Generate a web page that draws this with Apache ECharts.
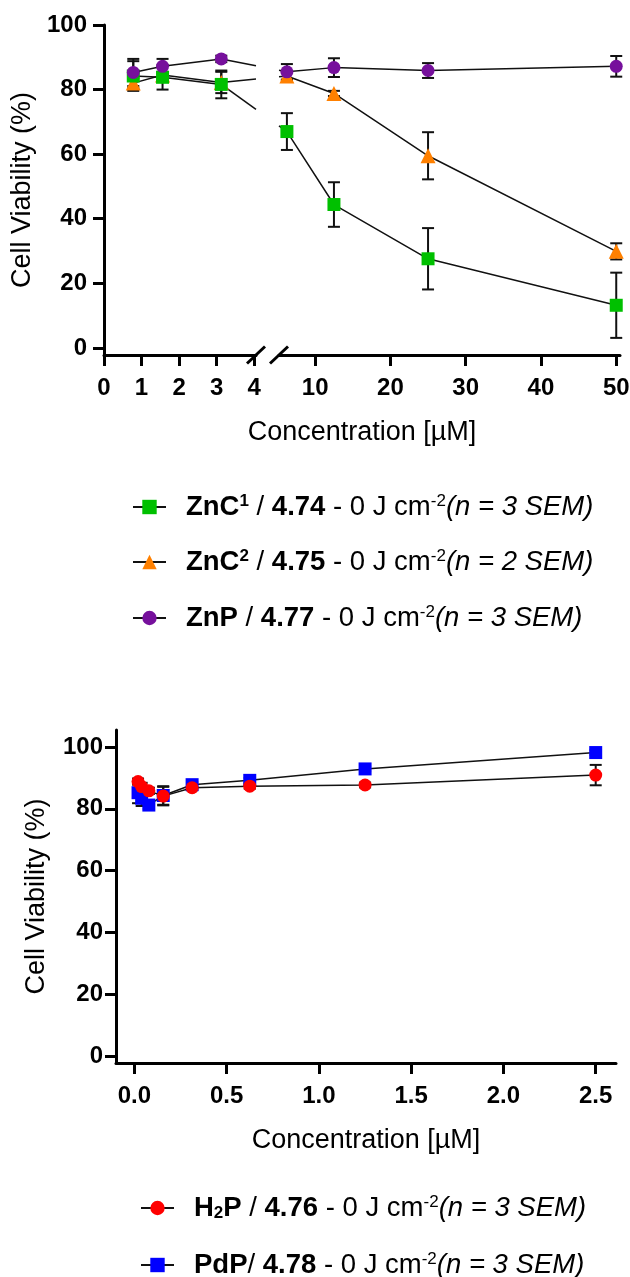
<!DOCTYPE html>
<html>
<head>
<meta charset="utf-8">
<script src="https://cdn.jsdelivr.net/npm/echarts@6/dist/echarts.min.js"></script>
<style>
  html, body { margin: 0; padding: 0; background: #fff; }
  #chart { width: 630px; height: 1277px; }
</style>
</head>
<body>
<div id="chart"></div>
<script>
// ---------- upper panel: zinc compounds, broken concentration axis (µM) ----------
const concTop = [0.78, 1.56, 3.125, 6.25, 12.5, 25, 50];
const zncOne = [84.2, 83.8, 81.6, 67.0, 44.4, 27.6, 13.2];
const zncOneSem = [4.6, 3.8, 4.3, 5.7, 6.9, 9.5, 10.1];
const zncTwo = [82.0, 84.5, 82.2, 84.2, 78.8, 59.5, 29.9];
const zncTwoSem = [1.5, 1.0, 3.3, 1.3, 0.8, 7.3, 2.5];
const znp = [85.3, 87.2, 89.5, 85.5, 86.8, 85.9, 87.2];
const znpSem = [4.2, 2.3, 1.0, 2.4, 2.9, 2.3, 3.2];
const topLowTicks = [0, 1, 2, 3, 4];
const topHighTicks = [10, 20, 30, 40, 50];
const viabilityTicks = [0, 20, 40, 60, 80, 100];

// ---------- lower panel: free base and palladium porphyrins ----------
const concBottom = [0.0195, 0.039, 0.078, 0.156, 0.3125, 0.625, 1.25, 2.5];
const h2p = [88.8, 87.2, 85.8, 84.1, 86.8, 87.3, 87.7, 90.9];
const h2pSem = [1.0, 1.2, 1.0, 3.0, 0.8, 0.8, 0.8, 3.3];
const pdp = [85.2, 83.4, 81.2, 84.3, 87.8, 89.2, 92.9, 98.2];
const pdpSem = [3.4, 2.5, 1.2, 3.0, 0.8, 0.8, 0.8, 0.8];
const bottomTicks = [0, 0.5, 1.0, 1.5, 2.0, 2.5];

// legend wording (rich text)
const legendText = {
  ZnC1: '{b|ZnC}{bsup|1}{r| / }{b|4.74}{r| - 0 J cm}{sup|-2}{i|(n = 3 SEM)}',
  ZnC2: '{b|ZnC}{bsup|2}{r| / }{b|4.75}{r| - 0 J cm}{sup|-2}{i|(n = 2 SEM)}',
  ZnP:  '{b|ZnP}{r| / }{b|4.77}{r| - 0 J cm}{sup|-2}{i|(n = 3 SEM)}',
  H2P:  '{b|H}{bsub|2}{b|P}{r| / }{b|4.76}{r| - 0 J cm}{sup|-2}{i|(n = 3 SEM)}',
  PdP:  '{b|PdP}{r|/ }{b|4.78}{r| - 0 J cm}{sup|-2}{i|(n = 3 SEM)}'
};

const FONT = "'Liberation Sans', Arial, sans-serif";
const INK = '#111';

// axis extents of the broken upper panel
const LEFT_MAX = 4.05;
const RIGHT_MIN = 5.2;
const RIGHT_MAX = 50.5;
const TOP_Y_MIN = -2.2;

const chart = echarts.init(document.getElementById('chart'), null, { renderer: 'canvas' });

function points(xs, ys, keep) {
  return xs.map((x, i) => [x, ys[i]]).filter(p => keep(p[0]));
}
function spans(xs, ys, sem, keep) {
  return xs.map((x, i) => [x, ys[i] - sem[i], ys[i] + sem[i]]).filter(p => keep(p[0]));
}
const inLeft = x => x <= LEFT_MAX;
const inRight = x => x >= RIGHT_MIN;
const all = () => true;

function renderErrorBar(params, api) {
  const x = api.value(0);
  const lo = api.coord([x, api.value(1)]);
  const hi = api.coord([x, api.value(2)]);
  const half = 6;
  const style = { stroke: INK, lineWidth: 2 };
  return {
    type: 'group',
    children: [
      { type: 'line', shape: { x1: lo[0], y1: lo[1], x2: hi[0], y2: hi[1] }, style },
      { type: 'line', shape: { x1: lo[0] - half, y1: lo[1], x2: lo[0] + half, y2: lo[1] }, style },
      { type: 'line', shape: { x1: hi[0] - half, y1: hi[1], x2: hi[0] + half, y2: hi[1] }, style }
    ]
  };
}

function errorSeries(data, axisIdx) {
  return {
    type: 'custom', xAxisIndex: axisIdx, yAxisIndex: axisIdx,
    data, renderItem: renderErrorBar, encode: { x: 0, y: [1, 2] },
    clip: false, z: 1, silent: true, animation: false
  };
}

function lineSeries(name, data, axisIdx, color, symbol, size, z) {
  return {
    type: 'line', name, xAxisIndex: axisIdx, yAxisIndex: axisIdx, data,
    symbol, symbolSize: size, showAllSymbol: true,
    itemStyle: { color, opacity: 1 },
    lineStyle: { color: INK, width: 1.5 },
    z, clip: false, emphasis: { disabled: true }, animation: false
  };
}

const GREEN = '#00c000', ORANGE = '#ff8000', PURPLE = '#76109c', RED = '#ff0000', BLUE = '#0000ff';

const topSets = [
  { name: 'ZnC2', ys: zncTwo, sem: zncTwoSem, color: ORANGE, symbol: 'triangle', size: 15, z: 3 },
  { name: 'ZnC1', ys: zncOne, sem: zncOneSem, color: GREEN, symbol: 'rect', size: 13, z: 4 },
  { name: 'ZnP', ys: znp, sem: znpSem, color: PURPLE, symbol: 'circle', size: 13, z: 5 }
];
const bottomSets = [
  { name: 'PdP', ys: pdp, sem: pdpSem, color: BLUE, symbol: 'rect', size: 13, z: 3 },
  { name: 'H2P', ys: h2p, sem: h2pSem, color: RED, symbol: 'circle', size: 13, z: 4 }
];

const series = [];
topSets.forEach(s => {
  series.push(errorSeries(spans(concTop, s.ys, s.sem, inLeft), 0));
  series.push(errorSeries(spans(concTop, s.ys, s.sem, inRight), 1));
});
bottomSets.forEach(s => series.push(errorSeries(spans(concBottom, s.ys, s.sem, all), 2)));
topSets.forEach(s => {
  series.push(lineSeries(s.name, points(concTop, s.ys, inLeft), 0, s.color, s.symbol, s.size, s.z));
  series.push(lineSeries(s.name, points(concTop, s.ys, inRight), 1, s.color, s.symbol, s.size, s.z));
});
bottomSets.forEach(s => series.push(lineSeries(s.name, points(concBottom, s.ys, all), 2, s.color, s.symbol, s.size, s.z)));

const axisLine = { show: true, onZero: false, lineStyle: { color: '#000', width: 3 } };
const tickStyle = { color: '#000', width: 3 };
const labelBase = { fontFamily: FONT, fontSize: 24, fontWeight: 'bold', color: '#000' };
const nameStyle = { fontFamily: FONT, fontSize: 27, color: '#000' };

const rich = {
  b: { fontFamily: FONT, fontSize: 27.5, fontWeight: 'bold', color: '#000', lineHeight: 28 },
  r: { fontFamily: FONT, fontSize: 27.5, color: '#000', lineHeight: 28 },
  i: { fontFamily: FONT, fontSize: 27.5, fontStyle: 'italic', color: '#000', lineHeight: 28 },
  bsup: { fontFamily: FONT, fontSize: 17, fontWeight: 'bold', color: '#000', lineHeight: 14, verticalAlign: 'top' },
  sup: { fontFamily: FONT, fontSize: 17, color: '#000', lineHeight: 14, verticalAlign: 'top' },
  bsub: { fontFamily: FONT, fontSize: 17, fontWeight: 'bold', color: '#000', lineHeight: 8, verticalAlign: 'bottom' }
};

// one legend block per entry so every row sits at its own height
function legendRow(name, left, centerY) {
  return {
    data: [name], orient: 'vertical', left, top: centerY - 14, padding: 0,
    itemWidth: 33, itemHeight: 18, selectedMode: false,
    formatter: n => legendText[n],
    textStyle: { padding: [0, 0, 0, 15], rich }
  };
}

const option = {
  backgroundColor: '#fff',
  animation: false,
  grid: [
    { left: 104, top: 25, width: 152, height: 330, outerBoundsMode: 'none' },
    { left: 279, top: 25, width: 341, height: 330, outerBoundsMode: 'none' },
    { left: 116, top: 730, width: 500, height: 333, outerBoundsMode: 'none' }
  ],
  xAxis: [
    {
      type: 'value', gridIndex: 0, min: 0, max: LEFT_MAX,
      axisLine, splitLine: { show: false },
      axisTick: { show: true, length: 11, lineStyle: tickStyle, customValues: topLowTicks },
      axisLabel: Object.assign({ customValues: topLowTicks, margin: 21 }, labelBase)
    },
    {
      type: 'value', gridIndex: 1, min: RIGHT_MIN, max: RIGHT_MAX,
      axisLine, splitLine: { show: false },
      axisTick: { show: true, length: 11, lineStyle: tickStyle, customValues: topHighTicks },
      axisLabel: Object.assign({ customValues: topHighTicks, margin: 21 }, labelBase)
    },
    {
      type: 'value', gridIndex: 2, min: -0.1, max: 2.61,
      axisLine, splitLine: { show: false },
      axisTick: { show: true, length: 11, lineStyle: tickStyle, customValues: bottomTicks },
      axisLabel: Object.assign({ customValues: bottomTicks, margin: 21, formatter: v => v.toFixed(1) }, labelBase),
      name: 'Concentration [µM]', nameLocation: 'middle', nameGap: 64, nameTextStyle: nameStyle
    }
  ],
  yAxis: [
    {
      type: 'value', gridIndex: 0, min: TOP_Y_MIN, max: 100,
      axisLine, splitLine: { show: false },
      axisTick: { show: true, length: 11, lineStyle: tickStyle, customValues: viabilityTicks },
      axisLabel: Object.assign({ customValues: viabilityTicks, margin: 17 }, labelBase),
      name: 'Cell Viability (%)', nameLocation: 'middle', nameGap: 68, nameTextStyle: nameStyle
    },
    {
      type: 'value', gridIndex: 1, min: TOP_Y_MIN, max: 100, show: false
    },
    {
      type: 'value', gridIndex: 2, min: -2.3, max: 105.5,
      axisLine, splitLine: { show: false },
      axisTick: { show: true, length: 11, lineStyle: tickStyle, customValues: viabilityTicks },
      axisLabel: Object.assign({ customValues: viabilityTicks, margin: 13 }, labelBase),
      name: 'Cell Viability (%)', nameLocation: 'middle', nameGap: 66, nameTextStyle: nameStyle
    }
  ],
  legend: [
    legendRow('ZnC1', 132, 507),
    legendRow('ZnC2', 132, 562),
    legendRow('ZnP', 132, 618),
    legendRow('H2P', 140, 1208),
    legendRow('PdP', 140, 1265)
  ],
  series
};

chart.setOption(option);

// Segments that cross the axis break, the break marks and the shared axis title
(function addBreakDecor() {
  const xL = chart.convertToPixel({ gridIndex: 0 }, [LEFT_MAX, 0])[0];
  const xR = chart.convertToPixel({ gridIndex: 1 }, [RIGHT_MIN, 0])[0];
  const x0 = chart.convertToPixel({ gridIndex: 0 }, [0, 0])[0];
  const xEnd = chart.convertToPixel({ gridIndex: 1 }, [RIGHT_MAX, 0])[0];
  const yAxisPos = chart.convertToPixel({ gridIndex: 0 }, [0, TOP_Y_MIN])[1];
  const lastLeft = concTop.filter(inLeft).length - 1;
  const firstRight = lastLeft + 1;
  const elements = [];
  topSets.forEach(s => {
    const p1 = chart.convertToPixel({ gridIndex: 0 }, [concTop[lastLeft], s.ys[lastLeft]]);
    const p2 = chart.convertToPixel({ gridIndex: 1 }, [concTop[firstRight], s.ys[firstRight]]);
    const yAt = x => p1[1] + (p2[1] - p1[1]) * (x - p1[0]) / (p2[0] - p1[0]);
    const style = { stroke: INK, lineWidth: 1.5 };
    elements.push({ type: 'line', z: 1, silent: true, shape: { x1: p1[0], y1: p1[1], x2: xL, y2: yAt(xL) }, style });
    elements.push({ type: 'line', z: 1, silent: true, shape: { x1: xR, y1: yAt(xR), x2: p2[0], y2: p2[1] }, style });
  });
  [xL, xR].forEach(x => {
    elements.push({
      type: 'line', z: 10, silent: true,
      shape: { x1: x - 9, y1: yAxisPos + 8.5, x2: x + 9, y2: yAxisPos - 8.5 },
      style: { stroke: '#000', lineWidth: 3 }
    });
  });
  elements.push({
    type: 'text', z: 10, silent: true, x: (x0 + xEnd) / 2, y: 433,
    style: { text: 'Concentration [µM]', fontFamily: FONT, fontSize: 27, fill: '#000', align: 'center', verticalAlign: 'middle' }
  });
  chart.setOption({ graphic: elements });
})();
</script>
</body>
</html>
